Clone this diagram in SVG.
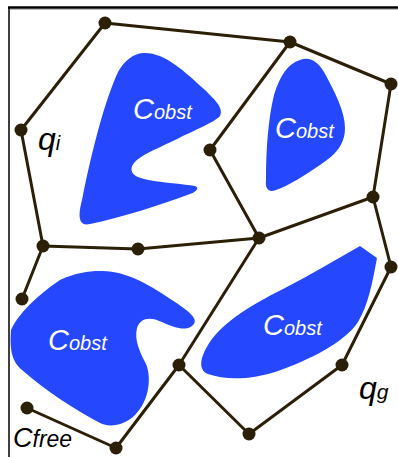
<svg xmlns="http://www.w3.org/2000/svg" width="398" height="457" viewBox="0 0 398 457">
<style>
.obst{fill:#2548ff}
.e{stroke:#2c1f08;stroke-width:3;fill:none;stroke-linecap:round}
.n{fill:#2c1f08}
.big{font-family:"Liberation Sans",Arial,sans-serif;font-style:italic;fill:#fff}
.blk{font-family:"Liberation Sans",Arial,sans-serif;font-style:italic;fill:#000}
</style>
<rect width="398" height="457" fill="#fff"/>
<line x1="8" y1="7.5" x2="398" y2="7.5" stroke="#000" stroke-width="2.5"/>
<line x1="398" y1="9.5" x2="10" y2="9.5" stroke="#bbb" stroke-width="1"/>
<line x1="9" y1="7" x2="9" y2="457" stroke="#000" stroke-width="1.5"/>
<g id="obstacles">
<path id="obst1" class="obst" d="M143,53 C165,52 185,72 205,90 C215,100 224,108 220,116 C215,122 195,130 175,140 C150,152 128,160 132,172 C136,182 170,182 195,186 C200,188 196,192 190,194 C160,205 120,218 90,224 C78,227 78,215 82,200 C92,150 105,100 118,72 C125,60 133,54 143,53 Z"/>
<path id="obst2" class="obst" d="M300,60 C310,56 318,62 324,72 C335,92 345,112 345,128 C345,145 335,155 320,165 C305,175 290,185 276,190 C268,193 265,188 266,180 C266,150 268,120 274,95 C280,75 288,64 300,60 Z"/>
<path id="obst3" class="obst" d="M100,271 C125,270 150,285 175,302 C190,312 200,320 192,326 C185,331 175,328 162,322 C150,316 140,318 137,328 C134,340 140,352 145,362 C152,375 150,400 135,415 C125,425 110,428 100,423 C75,410 45,390 22,370 C10,360 10,345 11,330 C20,310 45,290 60,280 C75,273 88,271 100,271 Z"/>
<path id="obst4" class="obst" d="M360,246 L377,258 C372,285 368,305 358,322 C345,342 310,360 275,372 C250,380 225,380 208,374 C198,370 200,358 208,345 C220,325 245,308 285,288 C310,275 335,260 360,246 Z"/>
</g>
<g id="connectors">
<line class="e" x1="105" y1="23" x2="290" y2="42"/>
<line class="e" x1="105" y1="23" x2="21" y2="130"/>
<line class="e" x1="21" y1="130" x2="43" y2="246"/>
<line class="e" x1="43" y1="246" x2="138" y2="249"/>
<line class="e" x1="138" y1="249" x2="259" y2="238"/>
<line class="e" x1="43" y1="246" x2="22" y2="299"/>
<line class="e" x1="290" y1="42" x2="391" y2="84"/>
<line class="e" x1="290" y1="42" x2="210" y2="150"/>
<line class="e" x1="210" y1="150" x2="259" y2="238"/>
<line class="e" x1="391" y1="84" x2="373" y2="197"/>
<line class="e" x1="373" y1="197" x2="259" y2="238"/>
<line class="e" x1="373" y1="197" x2="391" y2="267"/>
<line class="e" x1="391" y1="267" x2="342" y2="365"/>
<line class="e" x1="342" y1="365" x2="249" y2="434"/>
<line class="e" x1="249" y1="434" x2="179" y2="365"/>
<line class="e" x1="179" y1="365" x2="259" y2="238"/>
<line class="e" x1="179" y1="365" x2="116" y2="448"/>
<line class="e" x1="116" y1="448" x2="27" y2="408"/>
</g>
<g id="nodes">
<circle id="nA" class="n" cx="105" cy="23" r="6.5"/>
<circle id="nB" class="n" cx="290" cy="42" r="6.5"/>
<circle id="nC" class="n" cx="391" cy="84" r="6.5"/>
<circle id="nD" class="n" cx="21" cy="130" r="6.5"/>
<circle id="nE" class="n" cx="210" cy="150" r="6.5"/>
<circle id="nF" class="n" cx="373" cy="197" r="6.5"/>
<circle id="nG" class="n" cx="43" cy="246" r="6.5"/>
<circle id="nH" class="n" cx="138" cy="249" r="6.5"/>
<circle id="nI" class="n" cx="259" cy="238" r="6.5"/>
<circle id="nJ" class="n" cx="22" cy="299" r="6.5"/>
<circle id="nP" class="n" cx="391" cy="267" r="6.5"/>
<circle id="nK" class="n" cx="179" cy="365" r="6.5"/>
<circle id="nL" class="n" cx="342" cy="365" r="6.5"/>
<circle id="nM" class="n" cx="27" cy="408" r="6.5"/>
<circle id="nO" class="n" cx="249" cy="434" r="6.5"/>
<circle id="nN" class="n" cx="116" cy="448" r="6.5"/>
</g>
<g id="labels">
<text class="big" x="133" y="119" font-size="29">C<tspan font-size="20">obst</tspan></text>
<text class="big" x="275" y="138" font-size="29">C<tspan font-size="20">obst</tspan></text>
<text class="big" x="48" y="350" font-size="29">C<tspan font-size="20">obst</tspan></text>
<text class="big" x="263" y="335" font-size="29">C<tspan font-size="20">obst</tspan></text>
<text class="blk" x="38" y="150" font-size="32">q<tspan font-size="20">i</tspan></text>
<text class="blk" x="359" y="399" font-size="32">q<tspan font-size="21">g</tspan></text>
<text class="blk" x="13" y="447" font-size="27">C<tspan font-size="23">free</tspan></text>
</g>
</svg>
